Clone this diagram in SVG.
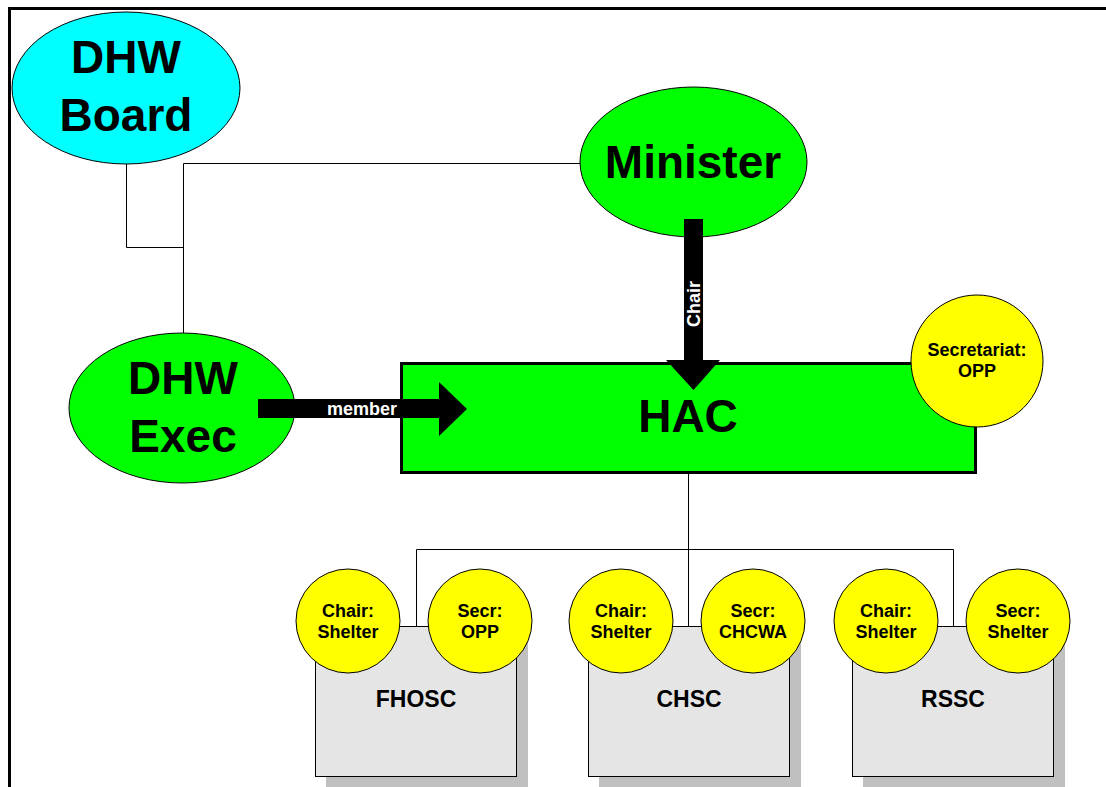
<svg xmlns="http://www.w3.org/2000/svg" width="1106" height="787" viewBox="0 0 1106 787">
  <style>
    text { font-family: "Liberation Sans", Arial, sans-serif; font-weight: bold; text-anchor: middle; fill: #000; }
    .big { font-size: 46px; }
    .small { font-size: 18px; }
    .box-label { font-size: 23px; }
    .arrow-label { font-size: 18px; fill: #fff; }
    .oval { stroke: #000; stroke-width: 1; }
    .board { fill: #00ffff; }
    .green { fill: #00ff00; }
    .role { fill: #ffff00; stroke: #000; stroke-width: 1; }
    .committee { fill: #e5e5e5; stroke: #000; stroke-width: 1; }
    .shadow { fill: #c0c0c0; }
    .link { fill: none; stroke: #000; stroke-width: 1; }
    .thick { fill: #000; }
  </style>

  <rect width="1106" height="787" fill="#fff"/>

  <!-- page frame (top and left edges) -->
  <path d="M9.5 787 V8.5 H1106" fill="none" stroke="#000" stroke-width="3"/>

  <!-- connectors -->
  <g id="connectors">
    <path class="link" d="M126.5 163 V247.5 H183.5"/>
    <path class="link" d="M183.5 333 V163.5 H581"/>
    <path class="link" d="M688.5 474 V549.5"/>
    <path class="link" d="M416.5 626 V549.5 H953.5 V626"/>
    <path class="link" d="M688.5 549.5 V626"/>
  </g>

  <g id="hac">
    <rect x="401.5" y="363.5" width="574" height="109" class="green" stroke="#000" stroke-width="3"/>
    <text class="big" x="688" y="432">HAC</text>
  </g>

  <g id="dhw-board">
    <ellipse cx="126" cy="88" rx="114" ry="76" class="oval board"/>
    <text class="big" x="126" y="73">DHW</text>
    <text class="big" x="126" y="131">Board</text>
  </g>

  <g id="minister">
    <ellipse cx="693.5" cy="162" rx="113.5" ry="75" class="oval green"/>
    <text class="big" x="693" y="178">Minister</text>
  </g>

  <g id="dhw-exec">
    <ellipse cx="182" cy="408" rx="113" ry="75" class="oval green"/>
    <text class="big" x="183" y="394">DHW</text>
    <text class="big" x="183" y="452">Exec</text>
  </g>

  <!-- bold relationship arrows -->
  <g id="chair-arrow">
    <path class="thick" d="M684 219 H703 V360 H720 L693.5 390 L666 360 H684 Z"/>
    <text class="arrow-label" font-size="19" transform="translate(700 304) rotate(-90)">Chair</text>
  </g>

  <g id="member-arrow">
    <path class="thick" d="M258 399 H439 V382 L467 409 L439 436 V418 H258 Z"/>
    <text class="arrow-label" x="362" y="415">member</text>
  </g>

  <g id="secretariat">
    <circle cx="977" cy="361" r="66" class="role"/>
    <text class="small" x="977" y="356">Secretariat:</text>
    <text class="small" x="977" y="377">OPP</text>
  </g>

  <g id="fhosc">
    <rect x="326" y="637" width="202" height="151" class="shadow"/>
    <rect x="315.5" y="626.5" width="201" height="150" class="committee"/>
    <text class="box-label" x="416" y="707">FHOSC</text>
    <circle cx="348" cy="621" r="52" class="role"/>
    <text class="small" x="348" y="617">Chair:</text>
    <text class="small" x="348" y="638">Shelter</text>
    <circle cx="480" cy="621" r="52" class="role"/>
    <text class="small" x="480" y="617">Secr:</text>
    <text class="small" x="480" y="638">OPP</text>
  </g>

  <g id="chsc">
    <rect x="599" y="637" width="202" height="151" class="shadow"/>
    <rect x="588.5" y="626.5" width="201" height="150" class="committee"/>
    <text class="box-label" x="689" y="707">CHSC</text>
    <circle cx="621" cy="621" r="52" class="role"/>
    <text class="small" x="621" y="617">Chair:</text>
    <text class="small" x="621" y="638">Shelter</text>
    <circle cx="753" cy="621" r="52" class="role"/>
    <text class="small" x="753" y="617">Secr:</text>
    <text class="small" x="753" y="638">CHCWA</text>
  </g>

  <g id="rssc">
    <rect x="863" y="637" width="202" height="151" class="shadow"/>
    <rect x="852.5" y="626.5" width="201" height="150" class="committee"/>
    <text class="box-label" x="953" y="707">RSSC</text>
    <circle cx="886" cy="621" r="52" class="role"/>
    <text class="small" x="886" y="617">Chair:</text>
    <text class="small" x="886" y="638">Shelter</text>
    <circle cx="1018" cy="621" r="52" class="role"/>
    <text class="small" x="1018" y="617">Secr:</text>
    <text class="small" x="1018" y="638">Shelter</text>
  </g>
</svg>
